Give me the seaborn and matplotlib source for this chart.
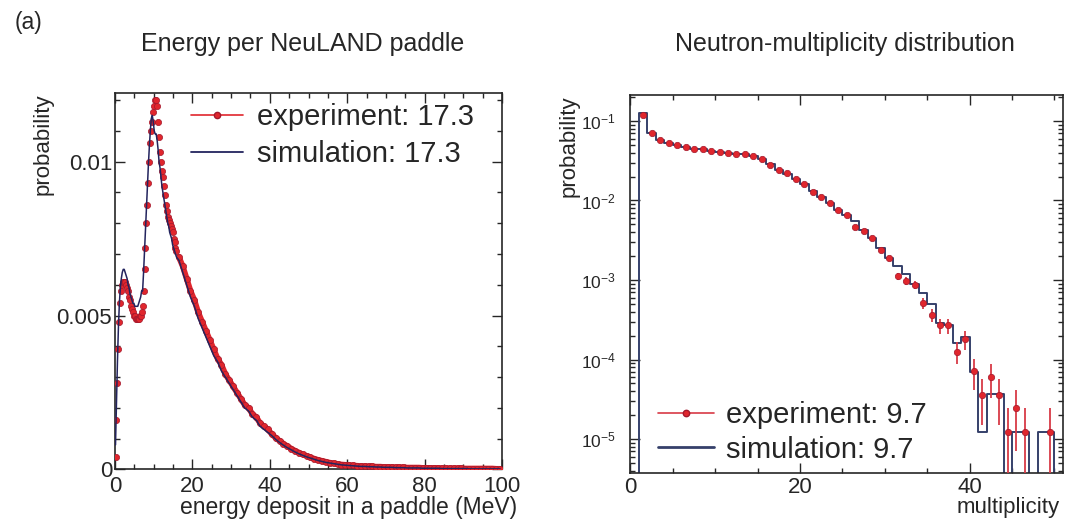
import numpy as np
import pandas as pd
import matplotlib
matplotlib.use("Agg")
import matplotlib.pyplot as plt
from matplotlib.lines import Line2D
from matplotlib.ticker import (MultipleLocator, FixedLocator, FuncFormatter,
                               LogLocator, LogFormatterSciNotation, NullFormatter)
import seaborn as sns

# ---------------- energy deposit per NeuLAND paddle ----------------
energy_fine = np.arange(0.125, 16.0, 0.25)    # 0.25 MeV bin centres, 0-16 MeV
energy_coarse = np.arange(16.5, 100.0, 1.0)   # 1 MeV bin centres, 16-100 MeV

exp_energy_fine = [
    0.0004, 0.0016, 0.0028, 0.0039, 0.0048, 0.0054, 0.0058, 0.0060,
    0.0061, 0.0061, 0.0061, 0.0060, 0.0059, 0.0058, 0.0056, 0.0055,
    0.0053, 0.0052, 0.0051, 0.0050, 0.0050, 0.0049, 0.0049, 0.0049,
    0.0049, 0.0050, 0.0050, 0.0051, 0.0053, 0.0058, 0.0065, 0.0072,
    0.0080, 0.0086, 0.0093, 0.0100, 0.0106, 0.0110, 0.0113, 0.0116,
    0.0118, 0.0120, 0.0120, 0.0118, 0.0113, 0.0108, 0.0103, 0.0100,
    0.0097, 0.0095, 0.0092, 0.0089, 0.0086, 0.0084, 0.0082, 0.0081,
    0.0080, 0.0079, 0.0078, 0.0077, 0.0075, 0.0074, 0.0072, 0.0071,
]
sim_energy_fine = [
    0.0008, 0.0022, 0.0035, 0.0046, 0.0054, 0.0059, 0.0062, 0.0064,
    0.0065, 0.0065, 0.0064, 0.0063, 0.0062, 0.0060, 0.0059, 0.0057,
    0.0056, 0.0055, 0.0054, 0.0054, 0.0053, 0.0053, 0.0053, 0.0053,
    0.0054, 0.0055, 0.0056, 0.0058, 0.0058, 0.0064, 0.0071, 0.0078,
    0.0085, 0.0092, 0.0099, 0.0105, 0.0110, 0.0114, 0.0115, 0.0113,
    0.0110, 0.0109, 0.0109, 0.0107, 0.0104, 0.0100, 0.0098, 0.0095,
    0.0092, 0.0090, 0.0088, 0.0086, 0.0084, 0.0082, 0.0080, 0.0079,
    0.0077, 0.0076, 0.0075, 0.0073, 0.0072, 0.0071, 0.0070, 0.0069,
]
exp_energy_coarse = [
    0.0069, 0.0066, 0.0062, 0.0058, 0.0055, 0.0051, 0.0048, 0.0045,
    0.0042, 0.0039, 0.0036, 0.0034, 0.0031, 0.0029, 0.0027, 0.0025,
    0.0023, 0.0021, 0.0020, 0.0018, 0.0017, 0.0015, 0.0014, 0.0013,
    0.00115, 0.00103, 0.00093, 0.00084, 0.00076, 0.00068, 0.00061, 0.00055,
    0.00049, 0.00044, 0.00039, 0.00035, 0.00031, 0.00028, 0.00025, 0.00022,
    0.00020, 0.00018, 0.00016, 0.00015, 0.00014, 0.00013, 0.00012, 0.00011,
    0.00011, 0.00010, 0.00010, 0.00009, 0.00009, 0.00008,
    0.00008, 0.00008, 0.00007, 0.00007, 0.00007, 0.00006, 0.00006, 0.00006,
    0.00006, 0.00005, 0.00005, 0.00005, 0.00005, 0.00005, 0.00004, 0.00004,
    0.00004, 0.00004, 0.00004, 0.00004, 0.00003, 0.00003, 0.00003, 0.00003,
    0.00003, 0.00003, 0.00003, 0.00003, 0.00002, 0.00002,
]
sim_energy_coarse = [
    0.0068, 0.0064, 0.0060, 0.0056, 0.0053, 0.0049, 0.0046, 0.0043,
    0.0040, 0.0037, 0.0035, 0.0032, 0.0030, 0.0028, 0.0026, 0.0024,
    0.0022, 0.0020, 0.0019, 0.0017, 0.0016, 0.0014, 0.0013, 0.0012,
    0.0011, 0.00098, 0.00088, 0.00079, 0.00071, 0.00064, 0.00057, 0.00051,
    0.00046, 0.00041, 0.00037, 0.00033, 0.00029, 0.00026, 0.00023, 0.00021,
    0.00019, 0.00017, 0.00015, 0.00014, 0.00013, 0.00012, 0.00011, 0.00010,
    0.00010, 0.00009, 0.00009, 0.00008, 0.00008, 0.00007,
    0.00007, 0.00007, 0.00006, 0.00006, 0.00006, 0.00005, 0.00005, 0.00005,
    0.00005, 0.00004, 0.00004, 0.00004, 0.00004, 0.00004, 0.00003, 0.00003,
    0.00003, 0.00003, 0.00003, 0.00003, 0.00003, 0.00002, 0.00002, 0.00002,
    0.00002, 0.00002, 0.00002, 0.00002, 0.00002, 0.00002,
]
mean_energy_exp = 17.3
mean_energy_sim = 17.3

# ---------------- neutron multiplicity ----------------
mult_edges = list(range(0, 52))        # unit-width bins 0..51
exp_mult = [
    0, 0.119, 0.070, 0.0577, 0.0533, 0.0499, 0.0467, 0.0449, 0.0441, 0.0423,
    0.0411, 0.0396, 0.0384, 0.0380, 0.0363, 0.0337, 0.0280, 0.0245, 0.0219, 0.0189,
    0.0162, 0.0129, 0.0112, 0.0092, 0.0076, 0.0066, 0.0047, 0.0041, 0.00335, 0.0024,
    0.00188, 0.00112, 0.00098, 0.00087, 0.00051, 0.00036, 0.00027, 0.00027, 0.000126, 0.00018,
    0.000071, 0.000036, 0.000060, 0.000036, 0.0000123, 0.0000245, 0.0000123, 0, 0, 0.0000123,
    0,
]
sim_mult = [
    0, 0.125, 0.070, 0.057, 0.053, 0.050, 0.047, 0.045, 0.044, 0.042,
    0.041, 0.040, 0.0385, 0.038, 0.036, 0.0335, 0.0285, 0.0245, 0.0215, 0.0188,
    0.0160, 0.0130, 0.0112, 0.0093, 0.0076, 0.0066, 0.0055, 0.0042, 0.0034, 0.0025,
    0.0019, 0.0015, 0.0012, 0.00088, 0.00068, 0.00050, 0.00029, 0.00027, 0.00016, 0.00019,
    0.000070, 0.0000123, 0.000037, 0.000037, 0, 0.0000123, 0.0000123, 0, 0.0000123, 0.0000123,
    0,
]
n_events = 81000
mean_mult_exp = 9.7
mean_mult_sim = 9.7

# ---------------- style ----------------
sns.set_style("ticks")
plt.rcParams["font.family"] = ["Liberation Sans", "DejaVu Sans"]
plt.rcParams["mathtext.fontset"] = "custom"
plt.rcParams["mathtext.rm"] = "Liberation Sans"
plt.rcParams["mathtext.it"] = "Liberation Sans:italic"
plt.rcParams["mathtext.bf"] = "Liberation Sans:bold"
plt.rcParams["axes.linewidth"] = 1.2

RED = "#e0262d"
DARKRED = "#a3182c"
NAVY = "#23245e"
SLATE = "#35406a"
ERR = "#d83a46"

fig = plt.figure(figsize=(10.65, 5.19), dpi=100)
ax1 = fig.add_axes([0.108, 0.0954, 0.3634, 0.7249])
ax2 = fig.add_axes([0.592, 0.0892, 0.4061, 0.7277])

# ---- energy panel ----
energy_df = pd.DataFrame({
    "energy": np.concatenate([energy_fine, energy_coarse]),
    "experiment": np.concatenate([exp_energy_fine, exp_energy_coarse]),
    "simulation": np.concatenate([sim_energy_fine, sim_energy_coarse]),
})
tail_df = energy_df[energy_df["energy"] > 16]

# the densely packed tail points merge into a solid band
sns.lineplot(data=tail_df, x="energy", y="experiment", ax=ax1, color=RED,
             linewidth=4.2, estimator=None, sort=False, zorder=2, legend=False)
sns.scatterplot(data=energy_df, x="energy", y="experiment", ax=ax1, s=20,
                color=RED, edgecolor=DARKRED, linewidth=0.5, zorder=3, legend=False)
sns.lineplot(data=energy_df, x="energy", y="simulation", ax=ax1, color=NAVY,
             linewidth=1.1, estimator=None, sort=False, zorder=4, legend=False)

ax1.set_xlim(0, 100)
ax1.set_ylim(0, 0.01222)
ax1.xaxis.set_major_locator(MultipleLocator(20))
ax1.xaxis.set_minor_locator(MultipleLocator(5))
ax1.yaxis.set_major_locator(FixedLocator([0, 0.005, 0.01]))
ax1.yaxis.set_minor_locator(MultipleLocator(0.001))
fmt_g = FuncFormatter(lambda v, p: f"{v:g}")
ax1.xaxis.set_major_formatter(fmt_g)
ax1.yaxis.set_major_formatter(fmt_g)
ax1.tick_params(which="both", direction="in", top=True, right=True, width=1.0,
                labelsize=16)
ax1.tick_params(which="major", length=7)
ax1.tick_params(which="minor", length=3.5)
ax1.tick_params(axis="x", pad=5)
ax1.tick_params(axis="y", pad=2)

ax1.set_xlabel("energy deposit in a paddle (MeV)", fontsize=16.5, ha="right", va="center")
ax1.xaxis.set_label_coords(1.039, -0.10)
ax1.set_ylabel("probability", fontsize=16, ha="right", va="center")
ax1.yaxis.set_label_coords(-0.186, 1.0)
ax1.text(0.486, 1.131, "Energy per NeuLAND paddle", transform=ax1.transAxes,
         ha="center", va="center", fontsize=18)

h_exp = Line2D([0], [0], color=RED, marker="o", ms=4.5, mfc=RED, mec=DARKRED, lw=1.2)
h_sim = Line2D([0], [0], color=NAVY, lw=1.3)
ax1.legend([h_exp, h_sim],
           [f"experiment: {mean_energy_exp}", f"simulation: {mean_energy_sim}"],
           loc="upper left", bbox_to_anchor=(0.196, 0.974), frameon=False,
           fontsize=21, handlelength=1.8, handletextpad=0.48, labelspacing=0.3,
           borderpad=0, borderaxespad=0)

# ---- multiplicity panel ----
mult_df = pd.DataFrame({
    "multiplicity": np.arange(len(exp_mult)) + 0.5,
    "experiment": exp_mult,
    "simulation": sim_mult,
})
sns.histplot(data=mult_df, x="multiplicity", weights="simulation", bins=mult_edges,
             element="step", fill=False, color=SLATE, linewidth=1.4, ax=ax2, zorder=2)

seen = mult_df[mult_df["experiment"] > 0]
err_m = np.sqrt(seen["experiment"] / n_events)
ax2.errorbar(seen["multiplicity"], seen["experiment"], yerr=err_m, fmt="o", ms=4.6,
             mfc=RED, mec=DARKRED, mew=0.5, ecolor=ERR, elinewidth=1.3,
             capsize=0, zorder=3)

ax2.set_yscale("log")
ax2.set_xlim(0, 51)
ax2.set_ylim(3.77e-6, 0.212)
ax2.xaxis.set_major_locator(MultipleLocator(20))
ax2.xaxis.set_minor_locator(MultipleLocator(5))
ax2.xaxis.set_major_formatter(fmt_g)
ax2.yaxis.set_major_locator(LogLocator(base=10, numticks=20))
ax2.yaxis.set_minor_locator(LogLocator(base=10, subs=np.arange(2, 10), numticks=100))
ax2.yaxis.set_major_formatter(LogFormatterSciNotation())
ax2.yaxis.set_minor_formatter(NullFormatter())
ax2.tick_params(which="both", direction="in", top=True, right=True, width=1.0,
                labelsize=16)
ax2.tick_params(which="major", length=7)
ax2.tick_params(which="minor", length=3.5)
ax2.tick_params(axis="x", pad=3)
ax2.tick_params(axis="y", pad=10.5, labelsize=12.5)

ax2.set_xlabel("multiplicity", fontsize=16, ha="right", va="baseline")
ax2.xaxis.set_label_coords(0.993, -0.1067)
ax2.set_ylabel("probability", fontsize=16, ha="right", va="center")
ax2.yaxis.set_label_coords(-0.142, 1.0)
ax2.text(0.497, 1.134, "Neutron-multiplicity distribution", transform=ax2.transAxes,
         ha="center", va="center", fontsize=18)

h_exp2 = Line2D([0], [0], color=ERR, marker="o", ms=4.6, mfc=RED, mec=DARKRED, lw=1.2)
h_sim2 = Line2D([0], [0], color=SLATE, lw=2.0)
ax2.legend([h_exp2, h_sim2],
           [f"experiment: {mean_mult_exp}", f"simulation: {mean_mult_sim}"],
           loc="lower left", bbox_to_anchor=(0.0636, 0.024), frameon=False,
           fontsize=21, handlelength=1.92, handletextpad=0.41, labelspacing=0.22,
           borderpad=0, borderaxespad=0)

fig.text(28 / 1065, 1 - 23 / 519, "(a)", ha="center", va="center", fontsize=16.5)

fig.savefig("out.png", dpi=100)
